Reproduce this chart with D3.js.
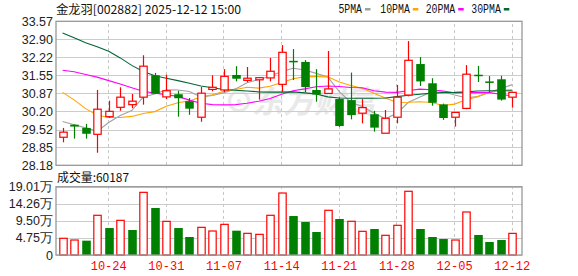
<!DOCTYPE html>
<html><head><meta charset="utf-8">
<script src="https://cdn.jsdelivr.net/npm/d3@7"></script>
<style>
html,body{margin:0;padding:0;background:#fff;}
svg{display:block;}
</style>
</head><body>
<svg id="c" width="578" height="276"></svg>
<script>
const dates = ["10-20","10-21","10-22","10-23","10-24","10-27","10-28","10-29","10-30","10-31","11-03","11-04","11-05","11-06","11-07","11-10","11-11","11-12","11-13","11-14","11-17","11-18","11-19","11-20","11-21","11-24","11-25","11-26","11-27","11-28","12-01","12-02","12-03","12-04","12-05","12-08","12-09","12-10","12-11","12-12"];
const open  = [29.23,29.70,29.58,29.34,30.00,30.35,30.45,30.73,31.55,30.74,30.84,30.58,29.98,31.02,31.00,31.56,31.36,31.38,31.45,31.21,32.09,32.05,31.00,30.87,30.66,30.62,30.13,30.09,29.38,29.98,30.81,31.97,31.25,30.46,29.98,30.31,31.57,31.32,31.40,30.73];
const high  = [29.58,29.71,29.73,31.00,30.60,31.10,30.85,32.30,31.64,31.57,30.97,30.70,31.11,31.55,31.78,31.89,31.86,31.47,32.20,32.68,32.53,32.12,31.78,32.46,30.72,31.65,30.66,30.22,30.25,31.19,32.83,32.23,31.44,30.49,30.17,31.93,31.90,31.52,31.53,30.91];
const low   = [29.04,29.18,29.18,28.65,29.95,30.22,30.32,30.45,30.85,30.66,30.00,30.07,29.81,30.95,30.92,31.32,31.29,30.64,31.32,30.93,31.37,30.92,30.56,30.86,29.62,29.90,29.75,29.44,29.38,29.75,30.76,31.15,30.41,29.88,29.63,30.28,31.30,30.90,30.60,30.34];
const close = [29.42,29.63,29.36,30.28,30.20,30.73,30.58,31.89,30.86,30.97,30.69,30.30,30.88,31.10,31.51,31.42,31.44,31.46,31.70,32.41,32.05,31.11,30.83,31.04,29.65,30.06,30.34,29.59,29.94,30.73,32.11,31.32,30.52,29.95,30.16,31.59,31.55,31.30,30.64,30.91];
const volume = [46500,41700,39900,110500,75100,96500,69600,174400,130800,93700,75100,50100,77000,66800,85300,67700,60300,57500,110500,172500,108500,91800,64000,124400,100200,93800,65900,72400,54800,82600,177300,72400,50100,44500,41700,119700,55700,36200,41700,60187];
const ma5  = [29.82,29.70,29.58,29.45,29.78,30.04,30.23,30.74,30.85,31.01,31.00,30.94,30.74,30.79,30.90,31.04,31.27,31.39,31.51,31.69,31.81,31.75,31.62,31.49,30.94,30.54,30.38,30.14,29.92,30.13,30.54,30.74,30.92,30.93,30.81,30.71,30.75,30.91,31.05,31.20];
const ma10 = [30.91,30.63,30.30,30.06,29.97,29.97,30.01,30.12,30.19,30.39,30.52,30.59,30.74,30.82,30.95,31.02,31.10,31.07,31.14,31.28,31.42,31.50,31.50,31.49,31.30,31.17,31.06,30.88,30.70,30.53,30.54,30.56,30.53,30.42,30.47,30.63,30.75,30.92,30.99,31.01];
const ma20 = [31.74,31.68,31.58,31.48,31.35,31.22,31.08,30.95,30.88,30.82,30.76,30.62,30.50,30.45,30.44,30.45,30.50,30.58,30.68,30.84,30.97,31.04,31.12,31.15,31.13,31.09,31.08,30.97,30.92,30.91,30.98,31.03,31.01,30.96,30.89,30.90,30.90,30.90,30.84,30.77];
const ma30 = [33.13,32.95,32.77,32.62,32.45,32.20,31.92,31.69,31.53,31.44,31.35,31.25,31.15,31.08,31.02,30.99,30.96,30.93,30.92,30.92,30.93,30.89,30.85,30.74,30.70,30.69,30.69,30.69,30.70,30.75,30.80,30.84,30.88,30.90,30.91,30.93,30.96,30.97,30.97,30.97];
const priceTicks = [28.18,28.85,29.52,30.20,30.87,31.55,32.22,32.90,33.57];
const priceTickLabels = ["28.18","28.85","29.52","30.20","30.87","31.55","32.22","32.90","33.57"];
const volTicks = [0,47500,95000,142600,190100];
const volTickLabels = ["0","4.75万","9.50万","14.26万","19.01万"];
const xTickDates = ["10-24","10-31","11-07","11-14","11-21","11-28","12-05","12-12"];
const maNames = ["5PMA","10PMA","20PMA","30PMA"];
const maColors = ["#a0a0a0","#ffa500","#ff00ff","#006633"];
const title = "金龙羽[002882] 2025-12-12 15:00";
const volLabel = "成交量:60187";

const svg = d3.select("#c");
const L = 56, R = 522, T1 = 21.3, B1 = 165.3, T2 = 186.7, B2 = 255;
const RED = "#ff0000", GREEN = "#008000";

const x = d3.scaleBand().domain(dates).range([56.8, 518]).paddingInner(0.36).paddingOuter(0.18);
const xc = d => x(d) + x.bandwidth()/2;
const y = d3.scaleLinear().domain([28.18, 33.57]).range([B1, T1]);
const yv = d3.scaleLinear().domain([0, 190100]).range([B2, T2]);

// watermark
svg.append("text").attr("x", 252).attr("y", 113).attr("font-family","Noto Sans CJK SC")
  .attr("font-size", 31).attr("font-weight","bold").attr("font-style","italic")
  .attr("fill","#e9e9e9").text("东方财富");
svg.append("text").attr("x", 224).attr("y", 112).attr("font-family","Noto Sans CJK SC")
  .attr("font-size", 30).attr("font-weight","bold").attr("fill","#e9e9e9").text("⊙");

// grids
function hgrid(scale, ticks){
  const g = svg.append("g").attr("transform", `translate(${L},0)`)
    .call(d3.axisLeft(scale).tickValues(ticks).tickSize(-(R-L)).tickFormat(""));
  g.select(".domain").remove();
  g.selectAll("line").attr("stroke","#cccccc").attr("stroke-width",1).attr("shape-rendering","crispEdges");
}
hgrid(y, priceTicks);
hgrid(yv, volTicks);
function vgrid(top, bottom){
  const g = svg.append("g").attr("transform", `translate(0,${bottom})`)
    .call(d3.axisBottom(x).tickValues(xTickDates).tickSize(-(bottom-top)).tickFormat(""));
  g.select(".domain").remove();
  g.selectAll("line").attr("stroke","#c8c8c8").attr("stroke-dasharray","3,3").attr("shape-rendering","crispEdges");
}
vgrid(T1, B1);
vgrid(T2, B2);

// MA lines
const mas = [ma5, ma10, ma20, ma30];
mas.forEach((arr, k) => {
  const line = d3.line().x((v,i) => xc(dates[i])).y(v => y(v));
  svg.append("path").datum(arr).attr("d", line).attr("fill","none")
    .attr("stroke", maColors[k]).attr("stroke-width", 1.1);
});

// candles
const idx = d3.range(dates.length);
const cg = svg.append("g");
idx.forEach(i => {
  const up = close[i] >= open[i];
  const col = up ? RED : GREEN;
  const cx = Math.round(xc(dates[i])) + 0.5;
  cg.append("line").attr("x1",cx).attr("x2",cx).attr("y1",y(high[i])).attr("y2",y(low[i]))
    .attr("stroke",col).attr("stroke-width",1.2);
  const top = y(Math.max(open[i],close[i])), bot = y(Math.min(open[i],close[i]));
  const h = Math.max(bot-top, 1);
  const w = x.bandwidth();
  if (up) {
    cg.append("rect").attr("x", cx - w/2).attr("y", top).attr("width", w).attr("height", h)
      .attr("fill","#fff").attr("stroke",col).attr("stroke-width",1.2);
  } else {
    cg.append("rect").attr("x", cx - w/2 - 0.6).attr("y", top).attr("width", w + 1.2).attr("height", Math.max(h,1.5))
      .attr("fill",col);
  }
});

// volume bars (color by previous close)
const vg = svg.append("g");
idx.forEach(i => {
  const up = i === 0 ? true : close[i] >= close[i-1];
  const cx = Math.round(xc(dates[i])) + 0.5;
  const w = x.bandwidth();
  if (up) {
    vg.append("rect").attr("x", cx - w/2).attr("y", yv(volume[i])).attr("width", w)
      .attr("height", yv(0) - yv(volume[i])).attr("fill","#fff").attr("stroke",RED).attr("stroke-width",1.2);
  } else {
    vg.append("rect").attr("x", cx - w/2 - 0.6).attr("y", yv(volume[i])).attr("width", w + 1.2)
      .attr("height", yv(0) - yv(volume[i])).attr("fill",GREEN);
  }
});

// frames
[[T1,B1],[T2,B2]].forEach(([t,b]) => {
  svg.append("rect").attr("x", L).attr("y", t).attr("width", R-L).attr("height", b-t)
    .attr("fill","none").attr("stroke","#999").attr("stroke-width",1.3);
});

// y axis labels
function yLabels(scale, ticks, labels){
  const g = svg.append("g").attr("transform", `translate(${L-3},0)`)
    .call(d3.axisLeft(scale).tickValues(ticks).tickSize(0).tickPadding(0).tickFormat((d,i) => labels[i]));
  g.select(".domain").remove();
  g.selectAll("text").attr("font-family","Liberation Sans, Arial, sans-serif").attr("font-size","12.5px").attr("fill","#222");
}
yLabels(y, priceTicks, priceTickLabels);
yLabels(yv, volTicks, volTickLabels);

// x axis labels
const xa = svg.append("g").attr("transform", `translate(0,${B2})`)
  .call(d3.axisBottom(x).tickValues(xTickDates).tickSize(0).tickPadding(6));
xa.select(".domain").remove();
xa.selectAll("text").attr("font-family","Liberation Mono, monospace").attr("font-size","12px")
  .attr("fill", RED);

// title
svg.append("text").attr("x", 56).attr("y", 13.5).attr("font-family","Noto Sans CJK SC")
  .attr("font-size", 12).attr("fill","#111").attr("textLength",185).attr("lengthAdjust","spacingAndGlyphs").text(title);
svg.append("text").attr("x", 57).attr("y", 181.5).attr("font-family","Noto Sans CJK SC")
  .attr("font-size", 12).attr("fill","#111").attr("textLength",72).attr("lengthAdjust","spacingAndGlyphs").text(volLabel);

// legend
const legX = [338.5, 380.3, 425.7, 471.3];
const legW = [23.5, 29.5, 29.5, 29.5];
maNames.forEach((n,k) => {
  svg.append("text").attr("x", legX[k]).attr("y", 13).attr("font-family","Liberation Mono, monospace")
    .attr("font-size", 12).attr("fill","#111").attr("textLength", legW[k]).attr("lengthAdjust","spacingAndGlyphs").text(n);
  svg.append("rect").attr("x", legX[k] + legW[k] + 3).attr("y", 8).attr("width", 5.5).attr("height", 2.5).attr("fill", maColors[k]);
});
</script>
</body></html>
